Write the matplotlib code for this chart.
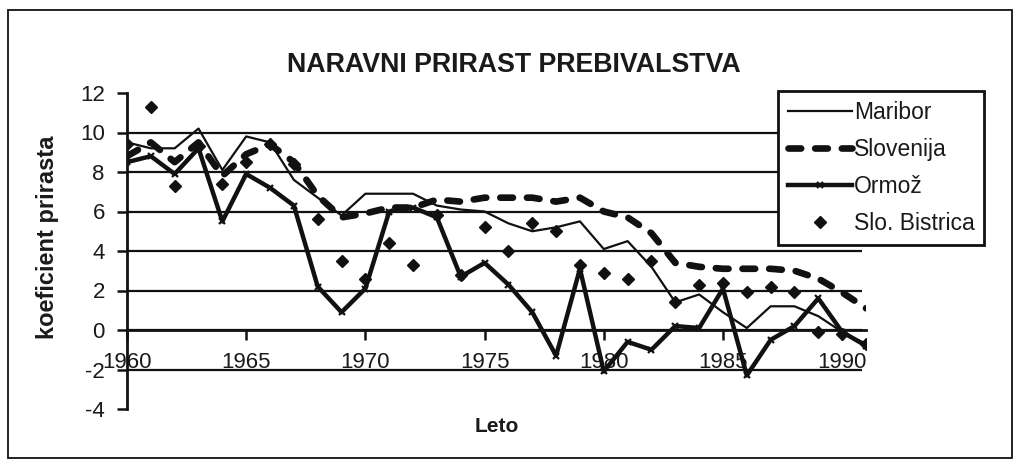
import matplotlib
matplotlib.use("Agg")
import matplotlib.pyplot as plt
from matplotlib.patches import Rectangle

years = list(range(1960, 1992))
maribor = [9.5, 9.2, 9.2, 10.2, 8.1, 9.8, 9.5, 7.6, 6.7, 5.8, 6.9, 6.9, 6.9, 6.3, 6.1, 6.0,
           5.4, 5.0, 5.2, 5.5, 4.1, 4.5, 3.2, 1.4, 1.8, 0.9, 0.1, 1.2, 1.2, 0.7, -0.1, -0.7]
slovenija = [8.8, 9.5, 8.5, 9.5, 7.8, 8.9, 9.4, 8.5, 6.8, 5.7, 5.9, 6.2, 6.2, 6.6, 6.5, 6.7,
             6.7, 6.7, 6.5, 6.7, 6.0, 5.7, 4.9, 3.4, 3.2, 3.1, 3.1, 3.1, 3.0, 2.6, 1.9, 1.1]
ormoz = [8.5, 8.8, 7.9, 9.2, 5.5, 7.9, 7.2, 6.3, 2.2, 0.9, 2.1, 6.0, 6.2, 5.7, 2.7, 3.4,
         2.3, 0.9, -1.3, 3.1, -2.1, -0.6, -1.0, 0.2, 0.1, 2.1, -2.3, -0.5, 0.2, 1.6, -0.1, -0.8]
bistrica = [9.4, 11.3, 7.3, 9.3, 7.4, 8.5, 9.4, 8.4, 5.6, 3.5, 2.6, 4.4, 3.3, 5.8, 2.8, 5.2,
            4.0, 5.4, 5.0, 3.3, 2.9, 2.6, 3.5, 1.4, 2.3, 2.4, 1.9, 2.2, 1.9, -0.1, -0.2, -0.7]

series_names = ["Maribor", "Slovenija", "Ormož", "Slo. Bistrica"]
xtick_years = [1960, 1965, 1970, 1975, 1980, 1985, 1990]
ytick_vals = [-4, -2, 0, 2, 4, 6, 8, 10, 12]
grid_vals = [-2, 0, 2, 4, 6, 8, 10]

title = "NARAVNI PRIRAST PREBIVALSTVA"
ylabel = "koeficient prirasta"
xlabel = "Leto"

plt.rcParams['font.family'] = ['Liberation Sans', 'DejaVu Sans']
TXT = "#1a1a1a"

W, H = 1020, 467
fig = plt.figure(figsize=(W / 100, H / 100), dpi=100)
fig.patch.set_facecolor("white")

# outer chart border
fig.patches.append(Rectangle((8 / W, 1 - 458 / H), 1004 / W, 448 / H, transform=fig.transFigure,
                             fill=False, edgecolor="#111111", linewidth=1.3))

L, R, T, B = 127, 866, 93, 409
ax = fig.add_axes([L / W, 1 - B / H, (R - L) / W, (B - T) / H])
ax.set_xlim(1960, 1991)
ax.set_ylim(-4, 12)

ax.hlines(grid_vals, 1960, 1991 - 0.15, colors="#111111", linewidth=1.6, zorder=1)

ax.plot(years, maribor, color="#111111", linewidth=1.6, zorder=3, label=series_names[0])
ax.plot(years, slovenija, color="#111111", linewidth=4.8, dashes=(1.9, 2.1),
        dash_capstyle="round", zorder=4, label=series_names[1])
ax.plot(years, ormoz, color="#111111", linewidth=3.2, marker="x", markersize=5,
        markeredgewidth=1.6, zorder=5, label=series_names[2])
ax.plot(years, bistrica, linestyle="none", marker="D", markersize=6.5, color="#111111",
        zorder=6, label=series_names[3])

for s in ["top", "right"]:
    ax.spines[s].set_visible(False)
ax.spines["left"].set_linewidth(2.0)
ax.spines["left"].set_color("#111111")
ax.spines["bottom"].set_position(("data", 0))
ax.spines["bottom"].set_linewidth(2.0)
ax.spines["bottom"].set_color("#111111")

ax.set_xticks(xtick_years)
ax.set_xticklabels([str(y) for y in xtick_years])
ax.set_yticks(ytick_vals)
ax.set_yticklabels([str(v) for v in ytick_vals])
ax.tick_params(axis="x", direction="out", length=7, width=1.8, pad=9, labelsize=16,
               labelcolor=TXT, color="#111111")
ax.tick_params(axis="y", direction="out", length=7, width=1.8, pad=9, labelsize=16,
               labelcolor=TXT, color="#111111")

ax.set_ylabel(ylabel, fontsize=17, fontweight="bold", color=TXT)
ax.yaxis.set_label_coords(-0.092, 0.545)
ax.set_xlabel(xlabel, fontsize=15, fontweight="bold", color=TXT)
ax.xaxis.set_label_coords(0.5, -0.025)

fig.text(514 / W, 1 - 65 / H, title, ha="center", va="center", fontsize=19.3,
         fontweight="bold", color=TXT)

leg = ax.legend(loc="upper left", bbox_to_anchor=(778 / W, 1 - 91 / H),
                bbox_transform=fig.transFigure, borderaxespad=0, frameon=True,
                fancybox=False, fontsize=16.5, handlelength=2.8, handletextpad=0.1,
                labelspacing=0.62, borderpad=0.42, labelcolor=TXT)
leg.get_frame().set_edgecolor("#111111")
leg.get_frame().set_linewidth(2.0)
leg.get_frame().set_alpha(1)
leg.set_zorder(10)

fig.savefig("out.png", dpi=100, facecolor="white")
